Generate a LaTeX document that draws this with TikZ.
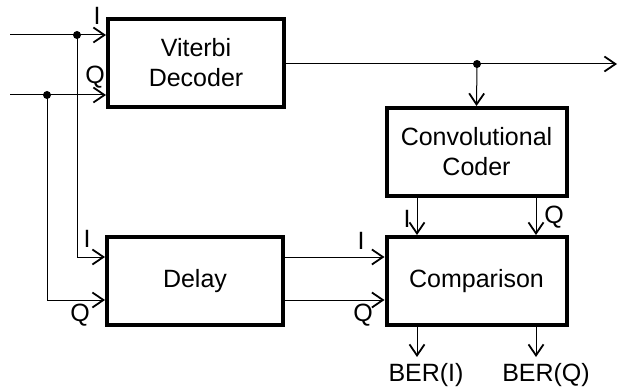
\documentclass[tikz,border=0pt]{standalone}
\usepackage{fontspec}
\setmainfont{Liberation Sans}
\usetikzlibrary{arrows.meta,calc}
\begin{document}
\begin{tikzpicture}[x=1pt,y=-1pt,
  blk/.style={draw,line width=4pt,minimum width=176pt,minimum height=88pt,align=center,inner sep=0pt,font=\fontsize{25}{30}\selectfont},
  conn/.style={line width=1pt,-{Straight Barb[length=11pt,width=15pt,line width=1.8pt]}},
  lbl/.style={font=\fontsize{25}{28}\selectfont,inner sep=0pt},
  jdot/.style={circle,fill,inner sep=0pt,minimum size=8pt}]
\useasboundingbox (0,0) rectangle (618,390);
\node[blk] (vit) at (196,63) {Viterbi\\Decoder};
\node[blk,minimum width=180pt] (conv) at (476.5,152) {Convolutional\\Coder};
\node[blk] (del) at (195,281) {Delay};
\node[blk,minimum width=180pt] (comp) at (476.5,281) {Comparison};
\coordinate (inI) at (10,35);
\coordinate (inQ) at (10,95);
\node[jdot] (dI) at (77,35) {};
\node[jdot] (dQ) at (47,95) {};
\node[jdot] (dO) at (477,64) {};
\coordinate (out) at (617,64);
\coordinate (dIc) at (77,257);
\coordinate (dQc) at (47,300);
\coordinate (berI) at (417,357);
\coordinate (berQ) at (536,357);
% inputs to Viterbi
\draw[conn] (inI) -- (inI -| vit.west);
\draw[conn] (inQ) -- (inQ -| vit.west);
% branches to delay
\draw[conn] (dI.center) -- (dIc) -- (dIc -| del.west);
\draw[conn] (dQ.center) -- (dQc) -- (dQc -| del.west);
% viterbi output
\draw[conn] (dO.center -| vit.east) -- (out);
\draw[conn] (dO.center) -- (conv.north);
% conv to comparison
\draw[conn] (berI |- conv.south) -- (berI |- comp.north);
\draw[conn] (berQ |- conv.south) -- (berQ |- comp.north);
% delay to comparison
\draw[conn] (dIc -| del.east) -- (dIc -| comp.west);
\draw[conn] (dQc -| del.east) -- (dQc -| comp.west);
% outputs
\draw[conn] (berI |- comp.south) -- (berI);
\draw[conn] (berQ |- comp.south) -- (berQ);
% labels
\node[lbl] (lvI) at (97,16) {I};
\node[lbl] (lvQ) at (95,77) {Q};
\node[lbl] (ldI) at (87,239) {I};
\node[lbl] (ldQ) at (80,315) {Q};
\node[lbl] (lcI) at (361,241) {I};
\node[lbl] (lcQ) at (363,315) {Q};
\node[lbl] (lkI) at (407,219) {I};
\node[lbl] (lkQ) at (554,217) {Q};
\node[lbl] (bI) at (426,375) {BER(I)};
\node[lbl] (bQ) at (546,375) {BER(Q)};
\end{tikzpicture}
\end{document}
